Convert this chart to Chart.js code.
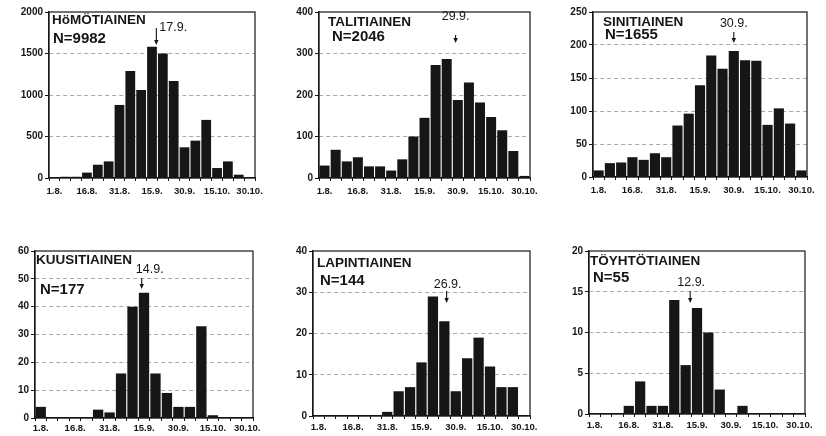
<!DOCTYPE html>
<html><head><meta charset="utf-8">
<script src="https://cdn.jsdelivr.net/npm/chart.js@4.4.0/dist/chart.umd.min.js"></script>
<style>
html,body{margin:0;padding:0;background:#fff;width:826px;height:436px;overflow:hidden;position:relative}
canvas{position:absolute}
</style></head><body>
<canvas id="c0"></canvas><canvas id="c1"></canvas><canvas id="c2"></canvas>
<canvas id="c3"></canvas><canvas id="c4"></canvas><canvas id="c5"></canvas>
<script>
// ---- data ----
const pentads = ['1.8.','6.8.','11.8.','16.8.','21.8.','26.8.','31.8.','5.9.','10.9.','15.9.','20.9.','25.9.','30.9.','5.10.','10.10.','15.10.','20.10.','25.10.','30.10.'];
const species = ['HöMÖTIAINEN','TALITIAINEN','SINITIAINEN','KUUSITIAINEN','LAPINTIAINEN','TÖYHTÖTIAINEN'];
const sampleSizes = [9982, 2046, 1655, 177, 144, 55];
const medianDates = ['17.9.','29.9.','30.9.','14.9.','26.9.','12.9.'];
const yMax = [2000, 400, 250, 60, 40, 20];
const yStep = [500, 100, 50, 10, 10, 5];
const homotiainen   = [5, 15, 15, 65, 160, 200, 880, 1290, 1060, 1580, 1500, 1170, 370, 450, 700, 120, 200, 40, 0];
const talitiainen   = [30, 68, 40, 50, 28, 28, 18, 45, 100, 145, 272, 287, 188, 230, 182, 147, 115, 65, 5];
const sinitiainen   = [10, 21, 22, 30, 26, 36, 30, 78, 96, 139, 184, 164, 191, 177, 176, 79, 104, 81, 10];
const kuusitiainen  = [4, 0, 0, 0, 0, 3, 2, 16, 40, 45, 16, 9, 4, 4, 33, 1, 0, 0, 0];
const lapintiainen  = [0, 0, 0, 0, 0, 0, 1, 6, 7, 13, 29, 23, 6, 14, 19, 12, 7, 7, 0];
const toyhtotiainen = [0, 0, 0, 1, 4, 1, 1, 14, 6, 13, 10, 3, 0, 1, 0, 0, 0, 0, 0];
const series = [homotiainen, talitiainen, sinitiainen, kuusitiainen, lapintiainen, toyhtotiainen];

// ---- layout (plot rectangles and text offsets) ----
const layout = [
  {L:49,  T:12,  R:255, B:178, xPad:6, t:[3,8],  n:[4,27],  m:{dx:3, dy:15.5, align:'left',   a0:16, a1:33}},
  {L:319, T:12,  R:530, B:178, xPad:6, t:[9,10], n:[13,25], m:{dx:0, dy:4.5,  align:'center', a0:23, a1:31}},
  {L:593, T:12,  R:807, B:177, xPad:6, t:[10,10],n:[12,23], m:{dx:0, dy:12,   align:'center', a0:20, a1:31}},
  {L:35,  T:251, R:253, B:418, xPad:3, t:[1,9.5],n:[5,39],  m:{dx:8, dy:18.5, align:'center', a0:27, a1:38}},
  {L:313, T:251, R:530, B:416, xPad:4, t:[4,12], n:[7,30],  m:{dx:1, dy:34,   align:'center', a0:40, a1:52}},
  {L:589, T:251, R:805, B:414, xPad:4, t:[1,10], n:[4,27],  m:{dx:1, dy:31.5, align:'center', a0:40, a1:52}}
];
const yW = 40, xH = 24, padT = 8, padR = 16;
const FONT = '"Liberation Sans", Arial, Helvetica, sans-serif';
const INK = '#161616';

function dateToIndex(s) {
  const [d, m] = s.split('.').map(Number);
  const off = m === 8 ? d - 1 : m === 9 ? 31 + d - 1 : 61 + d - 1;
  return off / 5;
}

const decor = {
  id: 'decor',
  afterDraw(chart, args, o) {
    const {ctx, chartArea: a, scales: {x}} = chart;
    ctx.save();
    ctx.strokeStyle = INK; ctx.lineWidth = 1.2;
    ctx.strokeRect(a.left, a.top, a.right - a.left, a.bottom - a.top);
    ctx.fillStyle = INK;
    ctx.textBaseline = 'middle'; ctx.textAlign = 'left';
    ctx.font = 'bold 13.5px ' + FONT;
    ctx.fillText(o.title, a.left + o.lay.t[0], a.top + o.lay.t[1]);
    ctx.font = 'bold 15px ' + FONT;
    ctx.fillText('N=' + o.n, a.left + o.lay.n[0], a.top + o.lay.n[1]);
    const m = o.lay.m;
    const ax = x.getPixelForValue(dateToIndex(o.median));
    ctx.font = '12.5px ' + FONT;
    ctx.textAlign = m.align;
    ctx.fillText(o.median, ax + m.dx, a.top + m.dy);
    ctx.lineWidth = 1.1;
    ctx.beginPath();
    ctx.moveTo(ax, a.top + m.a0);
    ctx.lineTo(ax, a.top + m.a1 - 3);
    ctx.stroke();
    ctx.beginPath();
    ctx.moveTo(ax - 2.2, a.top + m.a1 - 5);
    ctx.lineTo(ax + 2.2, a.top + m.a1 - 5);
    ctx.lineTo(ax, a.top + m.a1);
    ctx.closePath(); ctx.fill();
    ctx.restore();
  }
};

species.forEach((name, i) => {
  const lay = layout[i];
  const cv = document.getElementById('c' + i);
  const w = (lay.R - lay.L) + yW + padR;
  const h = (lay.B - lay.T) + padT + xH;
  cv.width = w; cv.height = h;
  cv.style.width = w + 'px'; cv.style.height = h + 'px';
  cv.style.left = (lay.L - yW) + 'px'; cv.style.top = (lay.T - padT) + 'px';
  new Chart(cv, {
    type: 'bar',
    data: { labels: pentads, datasets: [{ data: series[i], backgroundColor: INK, borderWidth: 0, barPercentage: 0.9, categoryPercentage: 1.0 }] },
    options: {
      responsive: false, animation: false,
      layout: { padding: { top: padT, right: padR, left: 0, bottom: 0 } },
      plugins: { legend: { display: false }, tooltip: { enabled: false },
        decor: { title: name, n: sampleSizes[i], median: medianDates[i], lay } },
      scales: {
        x: {
          afterFit: s => { s.height = xH; },
          grid: { display: true, drawOnChartArea: false, tickLength: 3, tickColor: INK, offset: true },
          border: { display: true, color: INK, width: 1.2 },
          ticks: { autoSkip: false, maxRotation: 0, minRotation: 0, padding: lay.xPad - 1, color: INK,
            font: { family: FONT, size: 9.5, weight: 'bold' },
            callback: (v, idx) => idx % 3 === 0 ? pentads[idx] : '' }
        },
        y: {
          min: 0, max: yMax[i],
          afterFit: s => { s.width = yW; },
          grid: { color: c => (c.tick && (c.tick.value === 0 || c.tick.value === yMax[i])) ? 'rgba(0,0,0,0)' : '#a8a8a8',
                  lineWidth: 1, tickLength: 4, tickColor: INK },
          border: { display: true, color: INK, width: 1.2, dash: [4, 3] },
          ticks: { stepSize: yStep[i], padding: 2, color: INK, font: { family: FONT, size: 10, weight: 'bold' },
            callback: v => String(v) }
        }
      }
    },
    plugins: [decor]
  });
});
</script>
</body></html>
